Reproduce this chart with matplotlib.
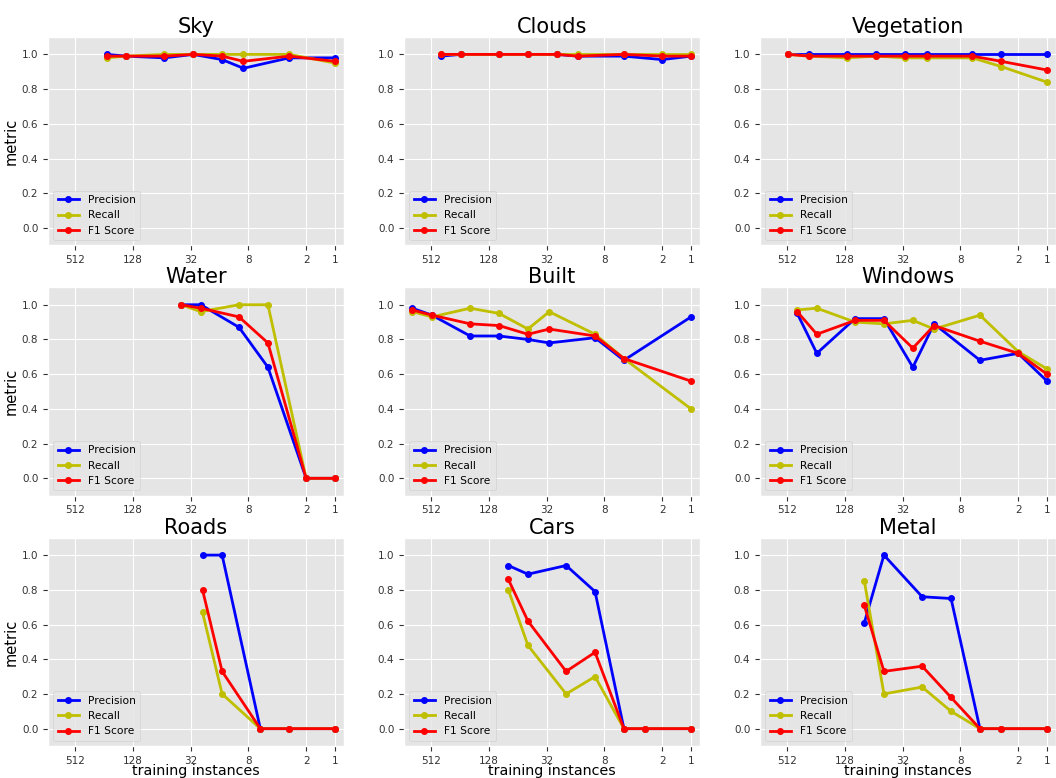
import matplotlib
matplotlib.use("Agg")
import matplotlib.pyplot as plt
from matplotlib.ticker import NullLocator

plt.style.use('ggplot')
plt.rcParams['font.family'] = ['DejaVu Sans']

# training instances per class
sky_x = [240, 150, 60, 30, 15, 9, 3, 1]
sky_p = [1.0, 0.99, 0.98, 1.0, 0.97, 0.92, 0.98, 0.98]
sky_r = [0.98, 0.99, 1.0, 1.0, 1.0, 1.0, 1.0, 0.95]
sky_f = [0.99, 0.99, 0.99, 1.0, 0.99, 0.96, 0.99, 0.96]

clouds_x = [400, 250, 100, 50, 25, 15, 5, 2, 1]
clouds_p = [0.99, 1.0, 1.0, 1.0, 1.0, 0.99, 0.99, 0.97, 0.99]
clouds_r = [1.0, 1.0, 1.0, 1.0, 1.0, 1.0, 1.0, 1.0, 1.0]
clouds_f = [1.0, 1.0, 1.0, 1.0, 1.0, 0.99, 1.0, 0.99, 0.99]

veg_x = [500, 300, 120, 60, 30, 18, 6, 3, 1]
veg_p = [1.0, 1.0, 1.0, 1.0, 1.0, 1.0, 1.0, 1.0, 1.0]
veg_r = [1.0, 0.99, 0.98, 0.99, 0.98, 0.98, 0.98, 0.93, 0.84]
veg_f = [1.0, 0.99, 0.99, 0.99, 0.99, 0.99, 0.99, 0.96, 0.91]

water_x = [40, 25, 10, 5, 2, 1]
water_p = [1.0, 1.0, 0.87, 0.64, 0.0, 0.0]
water_r = [1.0, 0.96, 1.0, 1.0, 0.0, 0.0]
water_f = [1.0, 0.98, 0.93, 0.78, 0.0, 0.0]

built_x = [800, 500, 200, 100, 50, 30, 10, 5, 1]
built_p = [0.98, 0.94, 0.82, 0.82, 0.80, 0.78, 0.81, 0.68, 0.93]
built_r = [0.96, 0.93, 0.98, 0.95, 0.86, 0.96, 0.83, 0.69, 0.40]
built_f = [0.97, 0.94, 0.89, 0.88, 0.83, 0.86, 0.82, 0.69, 0.56]

windows_x = [400, 250, 100, 50, 25, 15, 5, 2, 1]
windows_p = [0.95, 0.72, 0.92, 0.92, 0.64, 0.89, 0.68, 0.72, 0.56]
windows_r = [0.97, 0.98, 0.90, 0.89, 0.91, 0.86, 0.94, 0.73, 0.63]
windows_f = [0.96, 0.83, 0.91, 0.91, 0.75, 0.88, 0.79, 0.72, 0.60]

roads_x = [24, 15, 6, 3, 1]
roads_p = [1.0, 1.0, 0.0, 0.0, 0.0]
roads_r = [0.67, 0.20, 0.0, 0.0, 0.0]
roads_f = [0.80, 0.33, 0.0, 0.0, 0.0]

cars_x = [80, 50, 20, 10, 5, 3, 1]
cars_p = [0.94, 0.89, 0.94, 0.79, 0.0, 0.0, 0.0]
cars_r = [0.80, 0.48, 0.20, 0.30, 0.0, 0.0, 0.0]
cars_f = [0.86, 0.62, 0.33, 0.44, 0.0, 0.0, 0.0]

metal_x = [80, 50, 20, 10, 5, 3, 1]
metal_p = [0.61, 1.0, 0.76, 0.75, 0.0, 0.0, 0.0]
metal_r = [0.85, 0.20, 0.24, 0.10, 0.0, 0.0, 0.0]
metal_f = [0.71, 0.33, 0.36, 0.18, 0.0, 0.0, 0.0]

titles = ['Sky', 'Clouds', 'Vegetation', 'Water', 'Built', 'Windows', 'Roads', 'Cars', 'Metal']
panels = [
    (sky_x, sky_p, sky_r, sky_f),
    (clouds_x, clouds_p, clouds_r, clouds_f),
    (veg_x, veg_p, veg_r, veg_f),
    (water_x, water_p, water_r, water_f),
    (built_x, built_p, built_r, built_f),
    (windows_x, windows_p, windows_r, windows_f),
    (roads_x, roads_p, roads_r, roads_f),
    (cars_x, cars_p, cars_r, cars_f),
    (metal_x, metal_p, metal_r, metal_f),
]
x_ticks = [512, 128, 32, 8, 2, 1]

fig, axes = plt.subplots(3, 3, figsize=(10.56, 7.78), dpi=100)
plt.subplots_adjust(left=0.0455, right=1.0, top=0.9524, bottom=0.0411,
                    wspace=0.203, hspace=0.202)

for i, ax in enumerate(axes.flat):
    x, p, r, f = panels[i]
    ax.plot(x, p, 'b-o', lw=2, ms=4, label='Precision')
    ax.plot(x, r, 'y-o', lw=2, ms=4, label='Recall')
    ax.plot(x, f, 'r-o', lw=2, ms=4, label='F1 Score')

    # log2 axis, most instances on the left
    ax.set_xscale('log', base=2)
    ax.set_xlim(2 ** 9.93, 2 ** -0.31)
    ax.set_xticks(x_ticks)
    ax.set_xticklabels([str(t) for t in x_ticks])
    ax.xaxis.set_minor_locator(NullLocator())
    ax.set_ylim(-0.1, 1.1)
    ax.set_yticks([0.0, 0.2, 0.4, 0.6, 0.8, 1.0])
    ax.tick_params(labelsize=7.5, colors='#333333')

    ax.set_title(titles[i], fontsize=15, pad=2.5, color='black')
    ax.legend(loc='lower left', fontsize=7.7)
    if i % 3 == 0:
        ax.set_ylabel('metric', fontsize=10.5, color='black', labelpad=2)
    if i >= 6:
        ax.set_xlabel('training instances', fontsize=10.3, color='black', labelpad=-1.5)

plt.savefig('out.png', dpi=100)
